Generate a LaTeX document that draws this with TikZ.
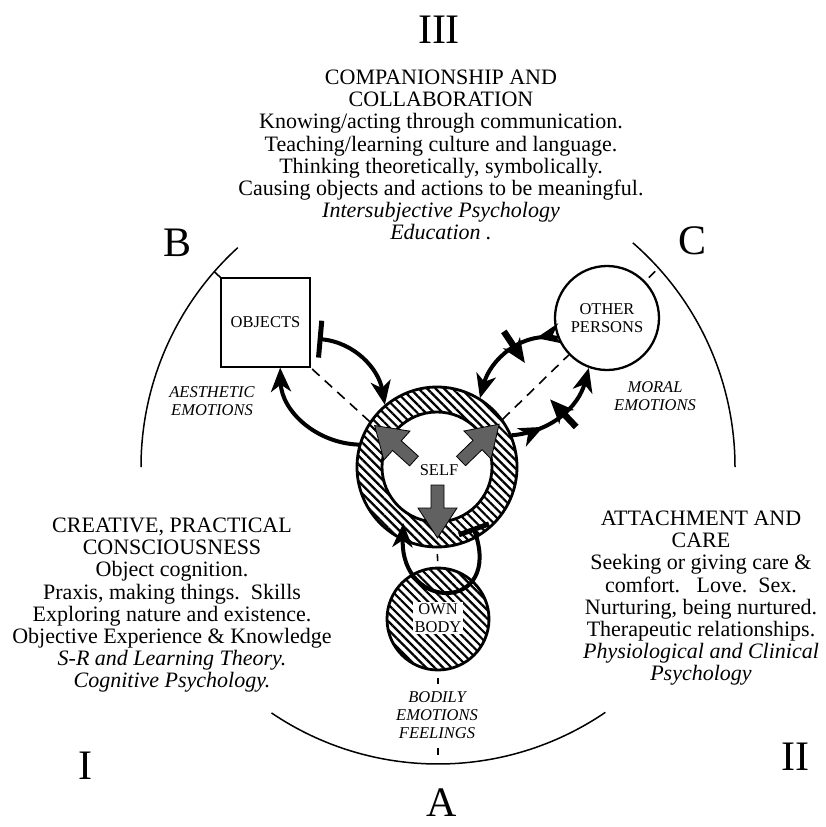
\documentclass[tikz,border=0pt]{standalone}
\usepackage{fontspec}
\setmainfont{Liberation Serif}
\usetikzlibrary{arrows.meta,patterns.meta,decorations.markings}

\begin{document}
\begin{tikzpicture}[x=1pt,y=1pt,
  bighead/.tip={Stealth[length=24pt,width=20pt,inset=7pt]},
  bigtext/.style={font=\fontsize{22}{22.2}\selectfont, align=center, inner sep=0pt, anchor=north},
  roman/.style={font=\fontsize{42}{42}\selectfont, inner sep=0pt},
  capslabel/.style={font=\fontsize{16.5}{17.5}\selectfont, align=center, inner sep=0pt},
  emo/.style={font=\fontsize{16.5}{18}\selectfont\itshape, align=center, inner sep=0pt},
  hatch/.style={pattern={Lines[angle=-45,distance=6pt,line width=2.2pt]}},
  link/.style={line width=4pt, -bighead},
  axis/.style={line width=1.6pt, dash pattern=on 10pt off 7pt},
  blockarrow/.style={fill=black!62, draw=black, line width=0.8pt},
  crossbar/.style={decoration={markings,
      mark=at position #1 with {\draw[line width=6.5pt] (0,-19) -- (0,19);}}},
  midhead/.style={decoration={markings,
      mark=at position #1 with {\arrow{bighead}}}},
]
\useasboundingbox (0,0) rectangle (825,-827);
\fill[white] (0,0) rectangle (825,-827);

% the three arcs of the outer circle
\coordinate (ctr) at (438,-467);
\draw[line width=1.5pt] (ctr) ++(132.4:297) arc[start angle=132.4, end angle=180, radius=297];
\draw[line width=1.5pt] (ctr) ++(49:297) arc[start angle=49, end angle=0, radius=297];
\draw[line width=1.5pt] (ctr) ++(235.9:297) arc[start angle=235.9, end angle=304.3, radius=297];
\coordinate (arcB) at (214.3,-271.7);
\coordinate (arcC) at (658.6,-268);
\coordinate (arcA) at (438,-764);

% poles of the relation
\node[draw, line width=1.3pt, fill=white, minimum width=89pt, minimum height=89pt, inner sep=0pt,
      capslabel] (objects) at (265.5,-322.5) {OBJECTS};
\node[circle, draw, line width=2.3pt, fill=white, minimum size=104pt, inner sep=0pt,
      capslabel] (others) at (607,-318) {OTHER\\PERSONS};
\node[circle, draw, line width=2.8pt, hatch, minimum size=160pt, inner sep=0pt] (self) at (437,-467) {};
\node[circle, draw, line width=2.8pt, fill=white, minimum size=110pt, inner sep=0pt] (core) at (self) {};
\node[capslabel] (selflabel) at (439,-470) {SELF};
\node[circle, draw, line width=2.8pt, hatch, minimum size=102pt, inner sep=0pt] (body) at (438,-619) {};
\node[capslabel, fill=white, inner sep=1.5pt] (bodylabel) at (438,-618) {OWN\\BODY};

% dashed axes
\draw[axis] (self.146) -- (objects.south east);
\draw[line width=1.6pt] (objects.north west) -- (arcB);
\draw[axis] (self.36) -- (others.224);
\draw[line width=1.6pt, dash pattern=on 0pt off 5pt on 9pt off 30pt] (others.44) -- (arcC);
\draw[line width=1.6pt, dash pattern=on 0pt off 6pt on 7pt off 30pt] (self.south) -- (body.north);
\draw[line width=1.6pt, dash pattern=on 0pt off 7pt on 6pt off 64pt on 7pt off 30pt] (body.south) -- (arcA);

% motives of the self
\filldraw[blockarrow, shift={(437.5,-485)}, rotate=-90]
  (0,-6.5) -- (23,-6.5) -- (23,-19.5) -- (53,0) -- (23,19.5) -- (23,6.5) -- (0,6.5) -- cycle;
\filldraw[blockarrow, shift={(414,-461)}, rotate=138]
  (0,-6.5) -- (23,-6.5) -- (23,-19.5) -- (53,0) -- (23,19.5) -- (23,6.5) -- (0,6.5) -- cycle;
\filldraw[blockarrow, shift={(461,-461)}, rotate=44]
  (0,-6.5) -- (23,-6.5) -- (23,-19.5) -- (53,0) -- (23,19.5) -- (23,6.5) -- (0,6.5) -- cycle;

% loop between self and own body
\draw[line width=4pt, {Bar[width=32pt,line width=5pt]}-bighead]
  ([shift={(-59:70)}]self.center) to[out=-70, in=-92, looseness=3.3] ([shift={(-121:65.5)}]self.center);

% exchanges with objects
\draw[link, {Bar[width=37pt,line width=5pt]}-bighead]
  ([xshift=7pt]objects.-20) to[out=-5, in=100] (self.130);
\draw[link] (self.164) to[out=178, in=-88] (objects.-72);

% exchanges with other persons
\draw[link, midhead=0.2, crossbar=0.42, postaction={decorate}]
  (others.202) to[out=170, in=75] (self.58);
\draw[link, midhead=0.3, crossbar=0.52, postaction={decorate}]
  (self.23) to[out=5, in=255] (others.250);

% emotion labels
\node[emo] (aesthetic) at (212,-401) {AESTHETIC\\EMOTIONS};
\node[emo] (moral) at (655,-396) {MORAL\\EMOTIONS};
\node[emo] (bodily) at (437,-715) {BODILY\\EMOTIONS\\FEELINGS};

% sector labels
\node[roman] (r3) at (439,-30) {III};
\node[roman] (r1) at (85,-766) {I};
\node[roman] (r2) at (795,-757) {II};
\node[roman] (la) at (442,-803) {A};
\node[roman] (lb) at (178,-243) {B};
\node[roman] (lc) at (692,-241) {C};

% sector descriptions
\node[bigtext] (top) at (441,-69.7) {COMPANIONSHIP AND\\COLLABORATION\\
  Knowing/acting through communication.\\Teaching/learning culture and language.\\
  Thinking theoretically, symbolically.\\Causing objects and actions to be meaningful.\\
  \textit{Intersubjective Psychology}\\\textit{Education .}};
\node[bigtext] (left) at (172,-517.7) {CREATIVE, PRACTICAL\\CONSCIOUSNESS\\
  Object cognition.\\Praxis, making things.\ \ Skills\\Exploring nature and existence.\\
  Objective Experience \& Knowledge\\\textit{S-R and Learning Theory.}\\\textit{Cognitive Psychology.}};
\node[bigtext] (right) at (701,-510.7) {ATTACHMENT AND\\CARE\\
  Seeking or giving care \&\\comfort.\ \ \ Love.\ \ Sex.\\Nurturing, being nurtured.\\
  Therapeutic relationships.\\\textit{Physiological and Clinical}\\\textit{Psychology}};
\end{tikzpicture}
\end{document}
